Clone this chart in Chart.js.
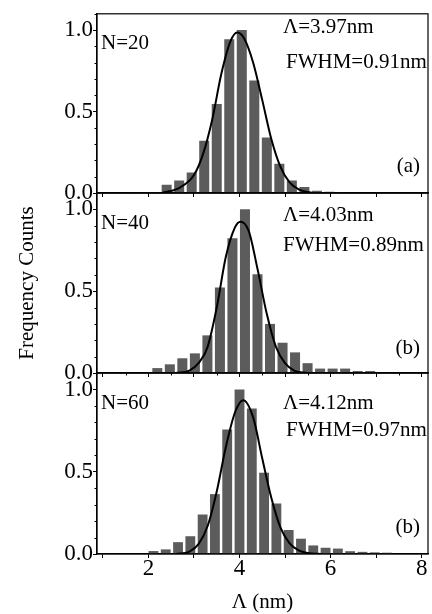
<!DOCTYPE html>
<html>
<head>
<meta charset="utf-8">
<script src="https://cdn.jsdelivr.net/npm/chart.js@4.4.1/dist/chart.umd.min.js"></script>
<style>
  html, body { margin: 0; padding: 0; background: #fff; }
  #wrap { position: relative; width: 432px; height: 614px; }
  #wrap canvas { position: absolute; left: 0; top: 0; }
</style>
</head>
<body>
<div id="wrap">
  <canvas id="p1" width="432" height="614"></canvas>
  <canvas id="p2" width="432" height="614"></canvas>
  <canvas id="p3" width="432" height="614"></canvas>
</div>
<script>
// histogram bins (nm) and normalised counts
const binsN20 = [1.575, 1.85, 2.125, 2.40, 2.675, 2.95, 3.225, 3.50, 3.775, 4.05, 4.325, 4.60, 4.875, 5.15, 5.425, 5.70, 5.975, 6.25];
const countsN20 = [0.004, 0.004, 0.006, 0.05, 0.076, 0.126, 0.32, 0.546, 0.944, 1.0, 0.69, 0.34, 0.18, 0.076, 0.037, 0.014, 0.008, 0.004];

const binsN40 = [1.92, 2.195, 2.47, 2.745, 3.02, 3.295, 3.57, 3.845, 4.12, 4.395, 4.67, 4.945, 5.22, 5.495, 5.77, 6.045, 6.32, 6.595, 6.87];
const countsN40 = [0.004, 0.03, 0.053, 0.09, 0.12, 0.23, 0.523, 0.823, 1.0, 0.604, 0.30, 0.185, 0.126, 0.06, 0.027, 0.027, 0.027, 0.012, 0.012];

const binsN60 = [2.11, 2.38, 2.65, 2.92, 3.19, 3.46, 3.73, 4.00, 4.27, 4.54, 4.81, 5.08, 5.35, 5.62, 5.89, 6.16, 6.43, 6.70, 6.97, 7.24];
const countsN60 = [0.018, 0.028, 0.072, 0.108, 0.24, 0.364, 0.757, 1.0, 0.885, 0.494, 0.307, 0.146, 0.093, 0.052, 0.038, 0.033, 0.017, 0.013, 0.01, 0.008];

// fitted curves, sampled from the figure
const fitXN20 = [2.3, 2.7, 3.0, 3.2, 3.4, 3.6, 3.8, 3.95, 4.1, 4.3, 4.5, 4.7, 4.9, 5.1, 5.3, 5.6];
const fitYN20 = [0.0, 0.035, 0.11, 0.24, 0.45, 0.73, 0.93, 0.985, 0.95, 0.80, 0.57, 0.33, 0.16, 0.065, 0.022, 0.0];

const fitXN40 = [2.6, 2.9, 3.1, 3.3, 3.5, 3.7, 3.9, 4.02, 4.2, 4.4, 4.6, 4.8, 5.0, 5.2, 5.5];
const fitYN40 = [0.0, 0.015, 0.06, 0.16, 0.40, 0.71, 0.89, 0.925, 0.87, 0.63, 0.36, 0.16, 0.06, 0.015, 0.0];

const fitXN60 = [2.6, 2.9, 3.1, 3.3, 3.5, 3.7, 3.9, 4.08, 4.3, 4.5, 4.7, 4.9, 5.1, 5.3, 5.5, 5.8];
const fitYN60 = [0.0, 0.015, 0.06, 0.17, 0.38, 0.65, 0.86, 0.935, 0.83, 0.58, 0.34, 0.16, 0.065, 0.022, 0.006, 0.0];

const panelNames = ['N=20', 'N=40', 'N=60'];
const peakLabels = ['\u039B=3.97nm', '\u039B=4.03nm', '\u039B=4.12nm'];
const fwhmLabels = ['FWHM=0.91nm', 'FWHM=0.89nm', 'FWHM=0.97nm'];
const panelTags = ['(a)', '(b)', '(b)'];
const xTickLabels = ['2', '4', '6', '8'];
const yTickLabels = ['0.0', '0.5', '1.0'];

const FONT = 'Liberation Serif';
const H = 614;
// panel placement on the page
const layout = [
  { top: 10,  base: 193, nY: 43,  peakY: 27,  fwhmY: 62,  fwhmX: 286, tagY: 166, minorX: 0 },
  { top: 193, base: 373, nY: 223, peakY: 215, fwhmY: 245, fwhmX: 283, tagY: 348, minorX: 0.5 },
  { top: 373, base: 554, nY: 403, peakY: 403, fwhmY: 430, fwhmX: 286, tagY: 527, minorX: 0 }
];

const panelDecor = {
  id: 'panelDecor',
  afterDraw(chart, args, opts) {
    const { ctx, chartArea: a, scales } = chart;
    ctx.save();
    ctx.strokeStyle = '#000';
    ctx.lineWidth = 1.2;
    ctx.strokeRect(a.left, a.top, a.right - a.left, a.bottom - a.top);
    // minor ticks on the y axis
    ctx.lineWidth = 1;
    ctx.beginPath();
    for (let v = 0.1; v < 1.1; v += 0.1) {
      if (Math.abs(v - 0.5) < 1e-6 || Math.abs(v - 1) < 1e-6) continue;
      const py = Math.round(scales.y.getPixelForValue(v)) + 0.5;
      ctx.moveTo(a.left - 2.5, py);
      ctx.lineTo(a.left, py);
    }
    if (opts.minorX) {
      for (let v = 1.5; v < 8.1; v += 1) {
        const px = Math.round(scales.x.getPixelForValue(v)) + 0.5;
        ctx.moveTo(px, a.bottom);
        ctx.lineTo(px, a.bottom + 2.5);
      }
    }
    ctx.stroke();
    ctx.fillStyle = '#000';
    ctx.font = '21px "' + FONT + '"';
    ctx.textBaseline = 'middle';
    opts.texts.forEach(function (t) {
      ctx.textAlign = t.align || 'left';
      ctx.fillText(t.text, t.x, t.y);
    });
    ctx.restore();
  }
};

function makePanel(id, i, bins, counts, fitX, fitY) {
  const g = layout[i];
  const bars = bins.map((x, k) => ({ x: x, y: counts[k] }));
  const fit = fitX.map((x, k) => ({ x: x, y: fitY[k] }));
  const last = i === 2;
  return new Chart(document.getElementById(id).getContext('2d'), {
    type: 'bar',
    data: {
      datasets: [
        {
          type: 'line',
          data: fit,
          borderColor: '#000',
          borderWidth: 2,
          pointRadius: 0,
          cubicInterpolationMode: 'monotone',
          order: 0
        },
        {
          type: 'bar',
          data: bars,
          backgroundColor: '#5c5c5c',
          borderWidth: 0,
          categoryPercentage: 1,
          barPercentage: 0.8,
          order: 1
        }
      ]
    },
    options: {
      responsive: false,
      animation: false,
      devicePixelRatio: 1,
      layout: { padding: { top: g.top, right: 4, left: 0, bottom: 0 } },
      plugins: {
        legend: { display: false },
        tooltip: { enabled: false },
        panelDecor: {
          minorX: g.minorX,
          texts: [
            { text: panelNames[i], x: 101, y: g.nY },
            { text: peakLabels[i], x: 283, y: g.peakY },
            { text: fwhmLabels[i], x: g.fwhmX, y: g.fwhmY },
            { text: panelTags[i], x: 420, y: g.tagY, align: 'right' }
          ]
        }
      },
      scales: {
        x: {
          type: 'linear',
          min: 0.87,
          max: 8.14,
          offset: false,
          afterFit: function (s) { s.height = H - g.base; },
          grid: { offset: false, drawOnChartArea: false, tickLength: 4, color: '#000' },
          border: { color: '#000', width: 1.2 },
          ticks: {
            display: last,
            stepSize: 1,
            includeBounds: false,
            autoSkip: false,
            maxRotation: 0,
            padding: -3,
            color: '#000',
            font: { family: FONT, size: 23 },
            callback: function (v) { return xTickLabels.includes(String(v)) ? String(v) : ''; }
          },
          title: {
            display: last,
            text: '\u039B (nm)',
            color: '#000',
            font: { family: FONT, size: 21, lineHeight: 1 },
            padding: { top: 0, bottom: 1 }
          }
        },
        y: {
          min: 0,
          max: 1.1,
          afterFit: function (s) { s.width = 97; },
          grid: { drawOnChartArea: false, tickLength: 4, color: '#000' },
          border: { color: '#000', width: 1.2 },
          ticks: {
            stepSize: 0.5,
            includeBounds: false,
            autoSkip: false,
            padding: 0,
            color: '#000',
            font: { family: FONT, size: 23 },
            callback: function (v) {
              const s = v.toFixed(1);
              return yTickLabels.includes(s) ? s : '';
            }
          },
          title: {
            display: i === 1,
            text: 'Frequency Counts',
            color: '#000',
            font: { family: FONT, size: 21 },
            padding: { top: 15, bottom: 0 }
          }
        }
      }
    },
    plugins: [panelDecor]
  });
}

makePanel('p1', 0, binsN20, countsN20, fitXN20, fitYN20);
makePanel('p2', 1, binsN40, countsN40, fitXN40, fitYN40);
makePanel('p3', 2, binsN60, countsN60, fitXN60, fitYN60);
</script>
</body>
</html>
